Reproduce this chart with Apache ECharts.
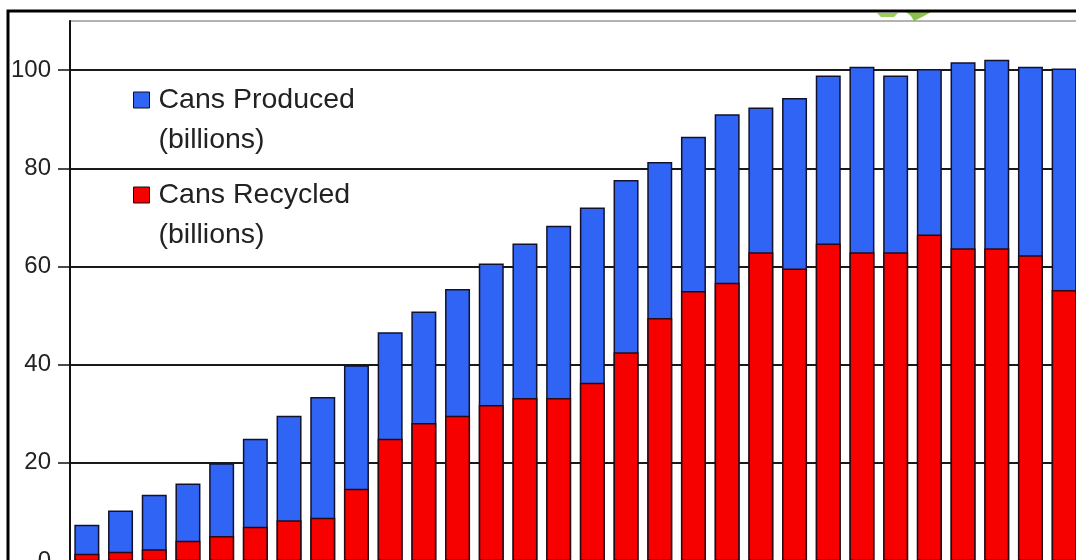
<!DOCTYPE html>
<html>
<head>
<meta charset="utf-8">
<title>Aluminum Cans Produced and Recycled</title>
<script src="https://cdn.jsdelivr.net/npm/echarts@6/dist/echarts.min.js"></script>
<style>
  html, body { margin: 0; padding: 0; background: #ffffff; }
  #chart { width: 1076px; height: 560px; }
</style>
</head>
<body>
<div id="chart"></div>
<script>
// Yearly categories (labels sit below the visible area)
const years = ['1972', '1973', '1974', '1975', '1976', '1977', '1978', '1979', '1980', '1981',
               '1982', '1983', '1984', '1985', '1986', '1987', '1988', '1989', '1990', '1991',
               '1992', '1993', '1994', '1995', '1996', '1997', '1998', '1999', '2000', '2001'];

// Billions of cans
const cansProduced = [7.4, 10.3, 13.5, 15.8, 19.9, 24.9, 29.6, 33.4, 39.9, 46.6,
                      50.8, 55.4, 60.6, 64.7, 68.3, 72.0, 77.6, 81.3, 86.4, 91.0,
                      92.4, 94.3, 98.9, 100.7, 98.9, 100.2, 101.6, 102.1, 100.7, 100.3];
const cansRecycled = [1.5, 1.9, 2.4, 4.1, 5.1, 7.0, 8.3, 8.8, 14.7, 24.9,
                      28.1, 29.6, 31.8, 33.2, 33.2, 36.3, 42.5, 49.5, 55.0, 56.7,
                      62.9, 59.6, 64.7, 62.9, 62.9, 66.5, 63.7, 63.7, 62.3, 55.2];

// Value-axis ticks
const yTicks = [0, 20, 40, 60, 80, 100];

const producedName = 'Cans Produced\n(billions)';
const recycledName = 'Cans Recycled\n(billions)';

const FONT = '"Liberation Sans", Arial, sans-serif';
const LINE_H = 40;

const legendRich = {
  t: {
    fontFamily: FONT,
    fontSize: 28.5,
    color: '#222222',
    lineHeight: LINE_H,
    padding: [0, 0, 0, 4]
  },
  s: { fontSize: 28.5, lineHeight: LINE_H }
};

// One legend per series; a blank leading line keeps the swatch level with the first text line
function legendFor(name, top) {
  return {
    data: [name],
    left: 133,
    top: top,
    padding: 0,
    orient: 'vertical',
    icon: 'rect',
    itemWidth: 16,
    itemHeight: 16,
    selectedMode: false,
    formatter: n => '{s| }\n' + n.split('\n').map(line => '{t|' + line + '}').join('\n'),
    itemStyle: { borderColor: '#111111', borderWidth: 1 },
    textStyle: {
      fontFamily: FONT,
      fontSize: 28.5,
      color: '#222222',
      lineHeight: LINE_H,
      rich: legendRich
    }
  };
}

const chart = echarts.init(document.getElementById('chart'), null, { renderer: 'canvas' });

chart.setOption({
  backgroundColor: '#ffffff',
  animation: false,
  grid: {
    left: 70,
    top: 21,
    width: 1011,
    height: 540,
    outerBoundsMode: 'none',
    containLabel: false,
    show: true,
    borderColor: '#9a9a9a',
    borderWidth: 1.5,
    backgroundColor: 'transparent'
  },
  legend: [legendFor(producedName, 40), legendFor(recycledName, 135)],
  xAxis: {
    type: 'category',
    data: years,
    boundaryGap: true,
    axisLine: { show: false },
    axisTick: { show: false },
    axisLabel: { show: false },
    splitLine: { show: false }
  },
  yAxis: {
    type: 'value',
    min: 0,
    max: 110,
    interval: 20,
    axisLine: { show: true, lineStyle: { color: '#111111', width: 2 } },
    axisTick: {
      show: true,
      inside: false,
      length: 12,
      customValues: yTicks,
      lineStyle: { color: '#111111', width: 1.5 }
    },
    axisLabel: {
      customValues: yTicks,
      margin: 19,
      fontFamily: FONT,
      fontSize: 24,
      color: '#222222'
    },
    splitLine: { show: true, lineStyle: { color: '#1a1a1a', width: 1.8 } }
  },
  series: [
    {
      name: producedName,
      type: 'bar',
      data: cansProduced,
      barWidth: 25,
      barGap: '-100%',
      itemStyle: { color: '#2f64f5', borderColor: '#12122e', borderWidth: 1.5 }
    },
    {
      name: recycledName,
      type: 'bar',
      data: cansRecycled,
      barWidth: 25,
      barGap: '-100%',
      itemStyle: { color: '#f70000', borderColor: '#2a0a10', borderWidth: 1.5 }
    }
  ],
  graphic: [
    {
      // outer frame
      type: 'rect',
      silent: true,
      z: 100,
      shape: { x: 8, y: 11, width: 1200, height: 700 },
      style: { fill: 'none', stroke: '#000000', lineWidth: 3 }
    },
    {
      type: 'polygon',
      silent: true,
      z: 90,
      shape: { points: [[877, 13], [898, 13], [894, 17], [881, 17]] },
      style: { fill: '#8cc43c', opacity: 0.85 }
    },
    {
      type: 'polygon',
      silent: true,
      z: 90,
      shape: { points: [[906, 12], [931, 12], [924, 16], [914, 21], [911, 16]] },
      style: { fill: '#78b62c', opacity: 0.85 }
    }
  ]
});
</script>
</body>
</html>
